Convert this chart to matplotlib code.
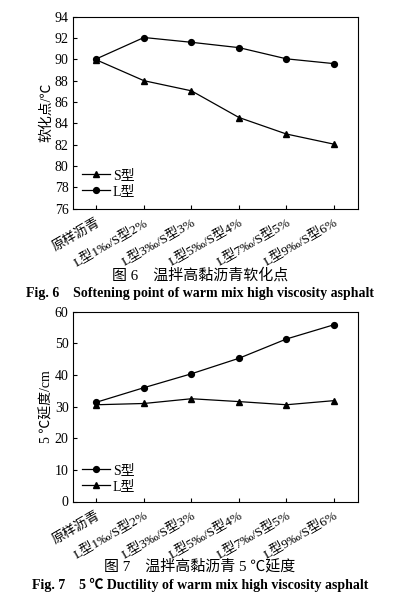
import numpy as np
import matplotlib
matplotlib.use("Agg")
import matplotlib.pyplot as plt

plt.rcParams['font.family'] = ['Liberation Serif', 'Noto Sans CJK SC', 'DejaVu Sans']
plt.rcParams['axes.unicode_minus'] = False

categories = ["原样沥青", "L型1‰/S型2%", "L型3‰/S型3%", "L型5‰/S型4%", "L型7‰/S型5%", "L型9‰/S型6%"]

# Fig 6 softening point (C)
soft_S = [89.95, 88.0, 87.05, 84.55, 83.0, 82.05]
soft_L = [90.05, 92.05, 91.6, 91.1, 90.05, 89.6]

# Fig 7 5C ductility (cm)
duct_S = [31.4, 36.0, 40.4, 45.3, 51.4, 55.9]
duct_L = [30.6, 31.0, 32.5, 31.6, 30.6, 31.9]

x = np.arange(len(categories))

fig = plt.figure(figsize=(4.08, 5.94), dpi=100)
W, H = 408, 594


def make_ax(left, top, right, bottom):
    return fig.add_axes([left / W, 1 - bottom / H, (right - left) / W, (bottom - top) / H])


def style(ax, ylim, yticks, ylabel):
    ax.set_xlim(-0.5, 5.5)
    ax.set_ylim(*ylim)
    ax.set_yticks(yticks)
    ax.set_xticks(x)
    ax.set_xticklabels(categories, rotation=30, ha='right', va='top',
                       rotation_mode='anchor', fontsize=9.5)
    ax.tick_params(direction='in', length=3, width=0.8, pad=3)
    ax.tick_params(axis='y', labelsize=10)
    ax.tick_params(axis='x', pad=5.5)
    for s in ax.spines.values():
        s.set_linewidth(0.8)
    ax.set_ylabel(ylabel, fontsize=10, labelpad=1)


ax1 = make_ax(72.7, 16.7, 357.7, 208.7)
ax1.plot(x, soft_S, color='black', lw=0.9, marker='^', ms=4.5, label='S型')
ax1.plot(x, soft_L, color='black', lw=0.9, marker='o', ms=4.2, label='L型')
style(ax1, (76, 94), np.arange(76, 95, 2), '软化点/℃')
ax1.legend(loc='lower left', bbox_to_anchor=(0.0, 0.005), frameon=False, fontsize=10,
           handlelength=2.0, handletextpad=0.2, labelspacing=0.2, borderaxespad=0.3)

ax2 = make_ax(72.7, 311.8, 357.7, 501.5)
ax2.plot(x, duct_S, color='black', lw=0.9, marker='o', ms=4.2, label='S型')
ax2.plot(x, duct_L, color='black', lw=0.9, marker='^', ms=4.5, label='L型')
style(ax2, (0, 60), np.arange(0, 61, 10), '5 ℃延度/cm')
ax2.legend(loc='lower left', bbox_to_anchor=(0.0, -0.005), frameon=False, fontsize=10,
           handlelength=2.0, handletextpad=0.2, labelspacing=0.2, borderaxespad=0.3)

fig.text(200 / W, 1 - 275 / H, "图 6　温拌高黏沥青软化点", ha='center', va='center', fontsize=10.8)
fig.text(200 / W, 1 - 293 / H, "Fig. 6　Softening point of warm mix high viscosity asphalt",
         ha='center', va='center', fontsize=10, fontweight='bold')
fig.text(200 / W, 1 - 566.5 / H, "图 7　温拌高黏沥青 5 ℃延度", ha='center', va='center', fontsize=10.8)
fig.text(200 / W, 1 - 585 / H, "Fig. 7　5 ℃ Ductility of warm mix high viscosity asphalt",
         ha='center', va='center', fontsize=10, fontweight='bold')

fig.savefig("out.png", dpi=100)
